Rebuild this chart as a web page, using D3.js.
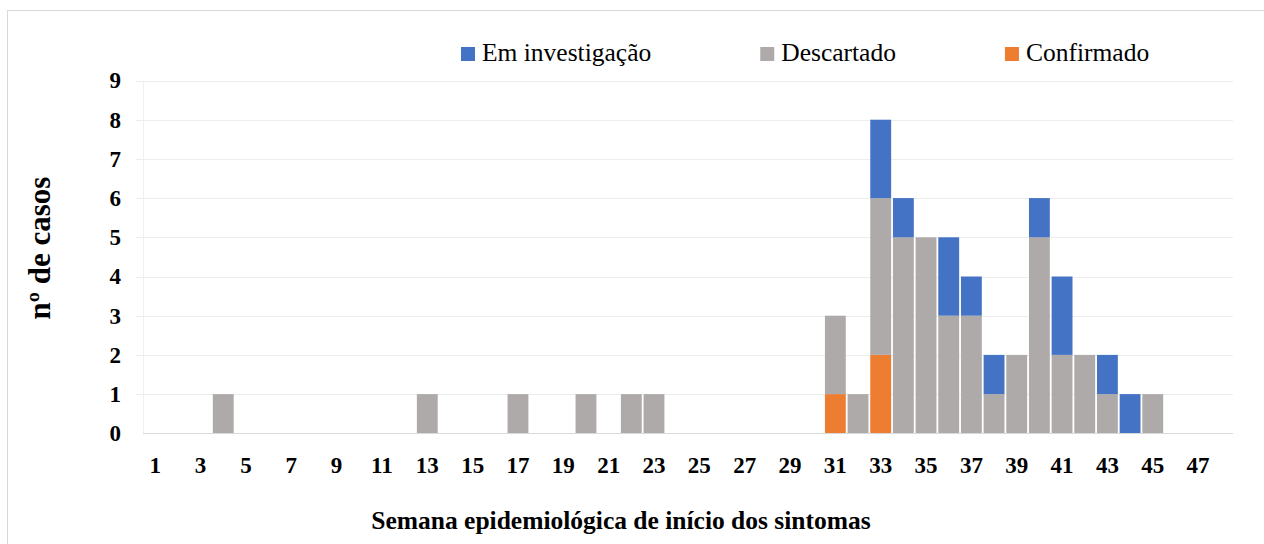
<!DOCTYPE html>
<html>
<head>
<meta charset="utf-8">
<script src="https://cdn.jsdelivr.net/npm/d3@7"></script>
<style>
    body { margin: 0; background: #fff; }
    #chart svg { display: block; }
    text { font-family: "Liberation Serif", "Times New Roman", Tinos, "DejaVu Serif", serif; }
    .tick text { font-weight: bold; font-size: 23px; fill: #000; }
    .legend text { font-size: 25.5px; fill: #000; }
    .title { font-weight: bold; font-size: 25.5px; fill: #000; }
    .title.y-title { font-size: 31px; }
</style>
</head>
<body>
<div id="chart"></div>
<script>
// semanas epidemiologicas
const weeks = [
    1, 2, 3, 4, 5, 6, 7, 8, 9, 10,
    11, 12, 13, 14, 15, 16, 17, 18, 19, 20,
    21, 22, 23, 24, 25, 26, 27, 28, 29, 30,
    31, 32, 33, 34, 35, 36, 37, 38, 39, 40,
    41, 42, 43, 44, 45, 46, 47, 48
];

const confirmado = [
    0, 0, 0, 0, 0, 0, 0, 0, 0, 0,
    0, 0, 0, 0, 0, 0, 0, 0, 0, 0,
    0, 0, 0, 0, 0, 0, 0, 0, 0, 0,
    1, 0, 2, 0, 0, 0, 0, 0, 0, 0,
    0, 0, 0, 0, 0, 0, 0, 0
];

const descartado = [
    0, 0, 0, 1, 0, 0, 0, 0, 0, 0,
    0, 0, 1, 0, 0, 0, 1, 0, 0, 1,
    0, 1, 1, 0, 0, 0, 0, 0, 0, 0,
    2, 1, 4, 5, 5, 3, 3, 1, 2, 5,
    2, 2, 1, 0, 1, 0, 0, 0
];

const emInvestigacao = [
    0, 0, 0, 0, 0, 0, 0, 0, 0, 0,
    0, 0, 0, 0, 0, 0, 0, 0, 0, 0,
    0, 0, 0, 0, 0, 0, 0, 0, 0, 0,
    0, 0, 2, 1, 0, 2, 1, 1, 0, 1,
    2, 0, 1, 1, 0, 0, 0, 0
];

const yTicks = [0, 1, 2, 3, 4, 5, 6, 7, 8, 9];

const series = [
    { key: 'conf', name: 'Confirmado', values: confirmado, color: '#ED7D31' },
    { key: 'desc', name: 'Descartado', values: descartado, color: '#AEAAAA' },
    { key: 'inv', name: 'Em investigação', values: emInvestigacao, color: '#4472C4' }
];
// legenda na ordem inversa do empilhamento
const legendOrder = ['inv', 'desc', 'conf'];

const chartWidth = 1264, chartHeight = 544;
const plotLeft = 143, plotRight = 1233, plotTop = 80.5, plotBottom = 433.3;

const svg = d3.select('#chart').append('svg')
    .attr('width', chartWidth)
    .attr('height', chartHeight);

svg.append('rect')
    .attr('x', 7.5).attr('y', 10.5)
    .attr('width', 1400).attr('height', 700)
    .attr('fill', 'none')
    .attr('stroke', '#d9d9d9');

const x = d3.scaleBand()
    .domain(weeks)
    .range([plotLeft, plotRight])
    .padding(0.08);

const y = d3.scaleLinear()
    .domain([0, 9])
    .range([plotBottom, plotTop]);

// grade
svg.append('g')
    .selectAll('line')
    .data(yTicks.filter(d => d > 0))
    .enter().append('line')
    .attr('x1', plotLeft - 7).attr('x2', plotRight)
    .attr('y1', d => Math.round(y(d)) + 0.5)
    .attr('y2', d => Math.round(y(d)) + 0.5)
    .attr('stroke', '#ededed');

svg.append('line')
    .attr('x1', plotLeft + 0.5).attr('x2', plotLeft + 0.5)
    .attr('y1', y(9)).attr('y2', y(0))
    .attr('stroke', '#f0f0f0');

// barras empilhadas
const table = weeks.map((w, i) => {
    let row = { week: w };
    series.forEach(s => row[s.key] = s.values[i]);
    return row;
});

const stack = d3.stack().keys(series.map(s => s.key));
const layers = stack(table);

svg.append('g')
    .selectAll('g')
    .data(layers).enter()
    .append('g')
    .attr('fill', (d, i) => series[i].color)
    .selectAll('rect')
    .data(d => d.filter(p => p[1] > p[0])).enter()
    .append('rect')
    .attr('x', d => x(d.data.week))
    .attr('width', x.bandwidth())
    .attr('y', d => y(d[1]))
    .attr('height', d => y(d[0]) - y(d[1]));

// eixo x
svg.append('line')
    .attr('x1', plotLeft).attr('x2', plotRight)
    .attr('y1', Math.round(plotBottom) + 0.5).attr('y2', Math.round(plotBottom) + 0.5)
    .attr('stroke', '#d9d9d9');

const xAxis = d3.axisBottom(x)
    .tickValues(weeks.filter(w => w % 2 === 1))
    .tickSize(0)
    .tickPadding(23);

svg.append('g')
    .attr('transform', `translate(0, ${plotBottom})`)
    .call(xAxis)
    .call(g => g.select('.domain').remove());

const yAxis = d3.axisLeft(y)
    .tickValues(yTicks)
    .tickSize(0)
    .tickPadding(22);

svg.append('g')
    .attr('transform', `translate(${plotLeft}, 0)`)
    .call(yAxis)
    .call(g => g.select('.domain').remove());

// d3 axis puts font-family on the group, drop it so css applies
svg.selectAll('g[font-family]').attr('font-family', null).attr('font-size', null);

// titulos
svg.append('text')
    .attr('class', 'title')
    .attr('x', 621)
    .attr('y', 529)
    .attr('text-anchor', 'middle')
    .text('Semana epidemiológica de início dos sintomas');

svg.append('text')
    .attr('class', 'title y-title')
    .attr('transform', 'translate(50, 248) rotate(-90)')
    .attr('text-anchor', 'middle')
    .text('nº de casos');

// legenda
const legend = svg.append('g').attr('class', 'legend');
let lx = 461;
for (const key of legendOrder) {
    const s = series.find(d => d.key === key);
    const item = legend.append('g').attr('transform', `translate(${lx}, 47)`);
    item.append('rect')
        .attr('width', 14).attr('height', 14)
        .attr('fill', s.color);
    const t = item.append('text')
        .attr('x', 21)
        .attr('y', 14)
        .text(s.name);
    lx += 21 + t.node().getComputedTextLength() + 109;
}
</script>
</body>
</html>
